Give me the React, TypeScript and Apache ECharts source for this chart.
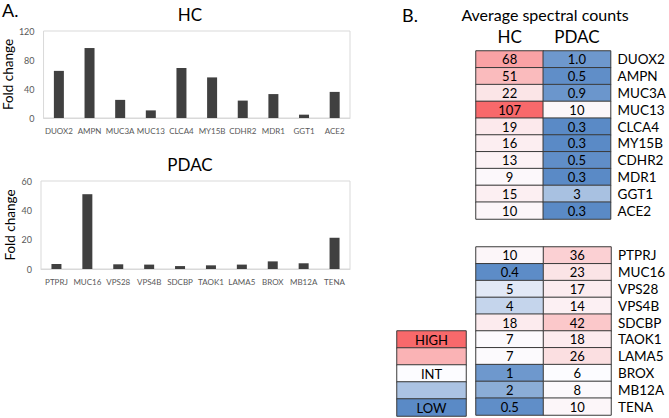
import React, { useEffect, useRef } from "react";
import * as echarts from "echarts";

const hcGenes = ["DUOX2", "AMPN", "MUC3A", "MUC13", "CLCA4", "MY15B", "CDHR2", "MDR1", "GGT1", "ACE2"];
const hcFold = [65, 96.5, 25, 10.5, 69, 56, 24, 33, 4.6, 36];
const pdacGenes = ["PTPRJ", "MUC16", "VPS28", "VPS4B", "SDCBP", "TAOK1", "LAMA5", "BROX", "MB12A", "TENA"];
const pdacFold = [3.4, 51, 3.2, 3, 2, 2.5, 3, 5.2, 3.9, 21.3];

const countColumns = ["HC", "PDAC"];
const hcSetCountsHC = ["68", "51", "22", "107", "19", "16", "13", "9", "15", "10"];
const hcSetCountsPDAC = ["1.0", "0.5", "0.9", "10", "0.3", "0.3", "0.5", "0.3", "3", "0.3"];
const pdacSetCountsHC = ["10", "0.4", "5", "4", "18", "7", "7", "1", "2", "0.5"];
const pdacSetCountsPDAC = ["36", "23", "17", "14", "42", "18", "26", "6", "8", "10"];
const legendLabels = ["HIGH", "", "INT", "", "LOW"];

const FONT = "Lato";
const BLUE = "#5a8ac6";
const WHITE = "#fcfcff";
const RED = "#f8696b";

function mix(a: string, b: string, t: number) {
  const pa = [1, 3, 5].map((i) => parseInt(a.slice(i, i + 2), 16));
  const pb = [1, 3, 5].map((i) => parseInt(b.slice(i, i + 2), 16));
  const c = pa.map((v, i) => Math.round(v + (pb[i] - v) * t));
  return "#" + c.map((v) => v.toString(16).padStart(2, "0")).join("");
}

// 20 evenly spaced stops over [0.3, 107]: stop 1 lands at ~5.9 (white midpoint)
const N = 19;
const scaleStops: string[] = [BLUE];
for (let k = 1; k <= N; k++) scaleStops.push(mix(WHITE, RED, (k - 1) / (N - 1)));

function tableData(colA: string[], colB: string[]) {
  const out: any[] = [];
  colA.forEach((s, i) => out.push({ value: [0, i, parseFloat(s)], txt: s }));
  colB.forEach((s, i) => out.push({ value: [1, i, parseFloat(s)], txt: s }));
  return out;
}

export default function App() {
  const ref = useRef<HTMLDivElement>(null);
  useEffect(() => {
    document.body.style.margin = "0";
    const chart = echarts.init(ref.current!, null, { renderer: "svg" });
    const barX = (data: string[]) => ({
      type: "category",
      data,
      axisLine: { lineStyle: { color: "#d9d9d9" } },
      axisTick: { show: false },
      axisLabel: { color: "#595959", fontSize: 8, interval: 0, margin: 9, fontFamily: FONT },
    });
    const barY = (max: number, interval: number) => ({
      type: "value",
      min: 0,
      max,
      interval,
      splitLine: { show: false },
      axisLine: { show: false },
      axisTick: { show: false },
      axisLabel: { color: "#595959", fontSize: 9, margin: 9, fontFamily: FONT },
      name: "Fold change",
      nameLocation: "middle",
      nameGap: 24,
      nameTextStyle: { color: "#000", fontSize: 13.5, fontFamily: FONT },
    });
    const cellLabel = (d: any[]) => ({
      show: true,
      color: "#000",
      fontSize: 13,
      fontFamily: FONT,
      formatter: (p: any) => d[p.dataIndex].txt,
    });
    const rowAxis = (gridIndex: number, data: string[]) => ({
      type: "category", gridIndex, data, inverse: true, position: "right",
      axisLine: { show: false }, axisTick: { show: false },
      axisLabel: { color: "#000", fontSize: 13.5, margin: 7, interval: 0, fontFamily: FONT },
    });
    const t1 = tableData(hcSetCountsHC, hcSetCountsPDAC);
    const t2 = tableData(pdacSetCountsHC, pdacSetCountsPDAC);
    const legData = legendLabels.map((s, i) => ({ value: [0, i, legendLabels.length - 1 - i], txt: s }));
    const hideAxis = { show: false };
    const border = { borderColor: "#3a3a3a", borderWidth: 1 };
    chart.setOption({
      animation: false,
      textStyle: { fontFamily: FONT },
      grid: [
        { left: 41, top: 31, width: 309, height: 87, show: true, borderColor: "#d9d9d9", borderWidth: 1 },
        { left: 41, top: 181, width: 309, height: 88, show: true, borderColor: "#d9d9d9", borderWidth: 1 },
        { left: 476, top: 51, width: 135, height: 168 },
        { left: 476, top: 247, width: 135, height: 168 },
        { left: 397, top: 331, width: 69, height: 85 },
      ],
      xAxis: [
        { ...barX(hcGenes), gridIndex: 0 },
        { ...barX(pdacGenes), gridIndex: 1 },
        {
          type: "category", gridIndex: 2, data: countColumns, position: "top",
          axisLine: { show: false }, axisTick: { show: false },
          axisLabel: { color: "#000", fontSize: 17, margin: 6, fontFamily: FONT },
        },
        { type: "category", gridIndex: 3, data: countColumns, ...hideAxis },
        { type: "category", gridIndex: 4, data: ["legend"], ...hideAxis },
      ],
      yAxis: [
        { ...barY(120, 40), gridIndex: 0 },
        { ...barY(60, 20), gridIndex: 1 },
        rowAxis(2, hcGenes),
        rowAxis(3, pdacGenes),
        { type: "category", gridIndex: 4, data: legendLabels.map((_, i) => "L" + i), inverse: true, ...hideAxis },
      ],
      visualMap: [
        { type: "continuous", show: false, seriesIndex: [2, 3], dimension: 2, min: 0.3, max: 107, inRange: { color: scaleStops } },
        { type: "continuous", show: false, seriesIndex: 4, dimension: 2, min: 0, max: 4, inRange: { color: [BLUE, mix(WHITE, BLUE, 0.5), WHITE, mix(WHITE, RED, 0.5), RED] } },
      ],
      series: [
        { type: "bar", xAxisIndex: 0, yAxisIndex: 0, data: hcFold, barWidth: 10, itemStyle: { color: "#404040" } },
        { type: "bar", xAxisIndex: 1, yAxisIndex: 1, data: pdacFold, barWidth: 10, itemStyle: { color: "#404040" } },
        { type: "heatmap", xAxisIndex: 2, yAxisIndex: 2, data: t1, label: cellLabel(t1), itemStyle: border },
        { type: "heatmap", xAxisIndex: 3, yAxisIndex: 3, data: t2, label: cellLabel(t2), itemStyle: border },
        { type: "heatmap", xAxisIndex: 4, yAxisIndex: 4, data: legData, label: cellLabel(legData), itemStyle: border },
      ],
      graphic: [
        { type: "text", left: 2, top: 1, style: { text: "A.", fontSize: 18, fontFamily: FONT, fill: "#000" } },
        { type: "text", x: 190, y: 14, style: { text: "HC", fontSize: 17, fontFamily: FONT, fill: "#000", textAlign: "center", textVerticalAlign: "middle" } },
        { type: "text", x: 190, y: 164, style: { text: "PDAC", fontSize: 17, fontFamily: FONT, fill: "#000", textAlign: "center", textVerticalAlign: "middle" } },
        { type: "text", x: 410, y: 15, style: { text: "B.", fontSize: 18, fontFamily: FONT, fill: "#000", textAlign: "center", textVerticalAlign: "middle" } },
        { type: "text", x: 545, y: 14, style: { text: "Average spectral counts", fontSize: 16, fontFamily: FONT, fill: "#000", textAlign: "center", textVerticalAlign: "middle" } },
      ],
    });
    return () => chart.dispose();
  }, []);
  return <div ref={ref} style={{ width: 669, height: 418 }} />;
}
